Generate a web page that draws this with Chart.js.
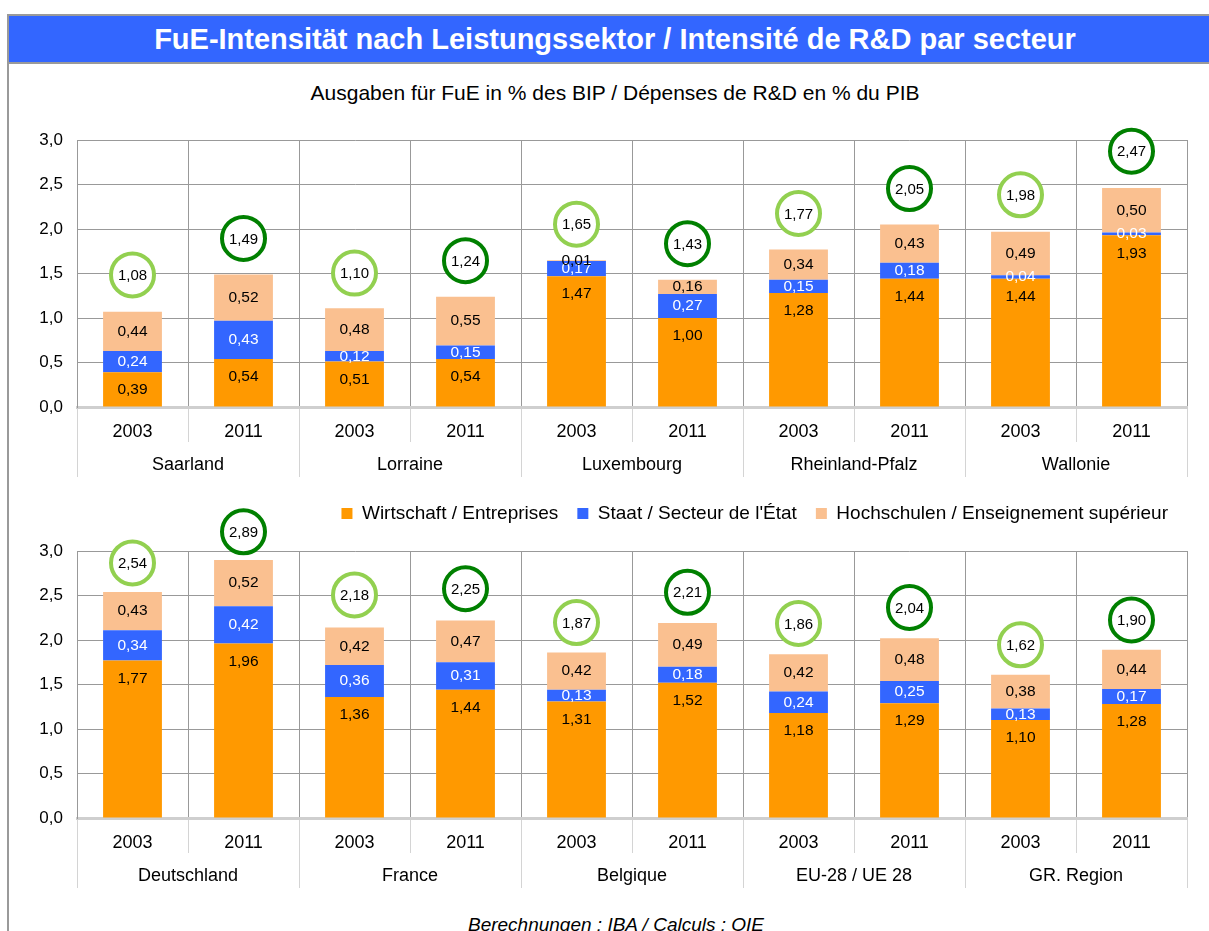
<!DOCTYPE html>
<html>
<head>
<meta charset="utf-8">
<script src="https://cdn.jsdelivr.net/npm/chart.js@4/dist/chart.umd.min.js"></script>
<style>
  body { margin: 0; width: 1209px; height: 931px; overflow: hidden; background: #fff;
         font-family: "Liberation Sans", Arial, sans-serif; position: relative; }
  #frame { position: absolute; left: 7px; top: 14px; width: 1210px; height: 930px;
           border-left: 2px solid #9a9a9a; border-top: 2px solid #9a9a9a; }
  #title { position: absolute; left: 9px; top: 16px; width: 1188px; height: 46px; padding-left: 12px;
           background: #3366ff; border-bottom: 2px solid #9a9a9a; color: #fff; font-weight: bold;
           font-size: 29px; line-height: 46px; text-align: center; }
  #subtitle { position: absolute; left: 0; top: 81px; width: 1230px; text-align: center;
              font-size: 21px; line-height: 24px; color: #000; }
  #note { position: absolute; left: 0; top: 914px; width: 1232px; text-align: center;
          font-size: 19px; line-height: 22px; font-style: italic; color: #000; }
  canvas { position: absolute; left: 0; }
  #topChart { top: 100px; }
  #bottomChart { top: 480px; }
</style>
</head>
<body>
<div id="frame"></div>
<div id="title">FuE-Intensität nach Leistungssektor / Intensité de R&amp;D par secteur</div>
<div id="subtitle">Ausgaben für FuE in % des BIP / Dépenses de R&amp;D en % du PIB</div>
<canvas id="topChart" width="1209" height="433"></canvas>
<canvas id="bottomChart" width="1209" height="421"></canvas>
<div id="note">Berechnungen : IBA / Calculs : OIE</div>
<script>
// categories
var years = ["2003", "2011", "2003", "2011", "2003", "2011", "2003", "2011", "2003", "2011"];
var topRegions = ["Saarland", "Lorraine", "Luxembourg", "Rheinland-Pfalz", "Wallonie"];
var bottomRegions = ["Deutschland", "France", "Belgique", "EU-28 / UE 28", "GR. Region"];
var seriesNames = ["Wirtschaft / Entreprises", "Staat / Secteur de l'État", "Hochschulen / Enseignement supérieur"];

// upper panel
var topWirtschaft = [0.39, 0.54, 0.51, 0.54, 1.47, 1.00, 1.28, 1.44, 1.44, 1.93];
var topStaat = [0.24, 0.43, 0.12, 0.15, 0.17, 0.27, 0.15, 0.18, 0.04, 0.03];
var topHochschulen = [0.44, 0.52, 0.48, 0.55, 0.01, 0.16, 0.34, 0.43, 0.49, 0.50];
var topTotal = [1.08, 1.49, 1.10, 1.24, 1.65, 1.43, 1.77, 2.05, 1.98, 2.47];

// lower panel
var bottomWirtschaft = [1.77, 1.96, 1.36, 1.44, 1.31, 1.52, 1.18, 1.29, 1.10, 1.28];
var bottomStaat = [0.34, 0.42, 0.36, 0.31, 0.13, 0.18, 0.24, 0.25, 0.13, 0.17];
var bottomHochschulen = [0.43, 0.52, 0.42, 0.47, 0.42, 0.49, 0.42, 0.48, 0.38, 0.44];
var bottomTotal = [2.54, 2.89, 2.18, 2.25, 1.87, 2.21, 1.86, 2.04, 1.62, 1.90];

var colors = ["#ff9900", "#3366ff", "#fac090"];
var fontFamily = '"Liberation Sans", Arial, sans-serif';
Chart.defaults.font.family = fontFamily;
Chart.defaults.color = "#000";

function fmt(v, d) {
    return v.toFixed(d).replace(".", ",");
}

// values inside the segments + circled totals above the bars
var labelPlugin = {
    id: "segLabels",
    afterDatasetsDraw: function (chart, args, opts) {
        var ctx = chart.ctx;
        ctx.save();
        ctx.font = "15.5px " + fontFamily;
        ctx.textAlign = "center";
        ctx.textBaseline = "middle";
        chart.data.datasets.forEach(function (ds, di) {
            chart.getDatasetMeta(di).data.forEach(function (bar, i) {
                var y = (bar.y + bar.base) / 2;
                // business label sits near the top of its segment, like Excel's "inside end"
                if (di === 0) y = Math.min(y, bar.y + 18);
                ctx.fillStyle = di === 1 ? "#fff" : "#000";
                ctx.fillText(fmt(ds.data[i], 2), bar.x, y);
            });
        });
        var yScale = chart.scales.y;
        var first = chart.getDatasetMeta(0).data;
        ctx.font = "15px " + fontFamily;
        opts.totals.forEach(function (t, i) {
            var x = first[i].x;
            var cy = yScale.getPixelForValue(t) - opts.offset;
            ctx.beginPath();
            ctx.arc(x, cy, 21.5, 0, Math.PI * 2);
            ctx.fillStyle = "#fff";
            ctx.fill();
            ctx.lineWidth = 4;
            ctx.strokeStyle = i % 2 ? "#008000" : "#92d050";
            ctx.stroke();
            ctx.fillStyle = "#000";
            ctx.fillText(fmt(t, 2), x, cy + 1);
        });
        ctx.restore();
    }
};

function makeChart(id, regions, wirt, staat, hoch, totals, showLegend, circleOffset, padTop, groupHeight) {
    var ctx = document.getElementById(id).getContext("2d");
    return new Chart(ctx, {
        type: "bar",
        data: {
            labels: years,
            datasets: [
                { label: seriesNames[0], data: wirt, backgroundColor: colors[0] },
                { label: seriesNames[1], data: staat, backgroundColor: colors[1] },
                { label: seriesNames[2], data: hoch, backgroundColor: colors[2] }
            ]
        },
        options: {
            responsive: false,
            animation: false,
            devicePixelRatio: 1,
            layout: { padding: { top: padTop, right: 22, left: 0, bottom: 0 } },
            datasets: { bar: { categoryPercentage: 0.53, barPercentage: 1, borderWidth: 0 } },
            plugins: {
                tooltip: { enabled: false },
                legend: {
                    display: showLegend,
                    position: "bottom",
                    align: "end",
                    labels: { boxWidth: 11, boxHeight: 11, padding: 19, font: { size: 19 } }
                },
                segLabels: { totals: totals, offset: circleOffset }
            },
            scales: {
                x: {
                    stacked: true,
                    grid: { color: "#999", tickColor: "#d4d4d4", tickLength: 35, offset: true },
                    border: { color: "#cfcfcf", width: 3 },
                    ticks: { font: { size: 18 }, padding: -21, maxRotation: 0 },
                    afterFit: function (s) { s.height = 35; }
                },
                x2: {
                    type: "category",
                    position: "bottom",
                    labels: regions,
                    offset: true,
                    grid: { offset: true, drawOnChartArea: false, tickColor: "#d4d4d4", tickLength: 35 },
                    border: { display: false },
                    ticks: { font: { size: 18 }, padding: -23, maxRotation: 0 },
                    afterFit: function (s) { s.height = groupHeight; }
                },
                y: {
                    stacked: true,
                    min: 0,
                    max: 3,
                    grid: {
                        color: function (c) { return c.tick && c.tick.value === 0 ? "rgba(0,0,0,0)" : "#999"; },
                        drawTicks: false
                    },
                    border: { color: "#999" },
                    ticks: {
                        stepSize: 0.5,
                        padding: 14,
                        font: { size: 17 },
                        callback: function (v) { return fmt(v, 1); }
                    },
                    afterFit: function (s) { s.width = 77; }
                }
            }
        },
        plugins: [labelPlugin]
    });
}

makeChart("topChart", topRegions, topWirtschaft, topStaat, topHochschulen, topTotal, true, 36, 40, 43);
makeChart("bottomChart", bottomRegions, bottomWirtschaft, bottomStaat, bottomHochschulen, bottomTotal, false, 29, 71, 48);
</script>
</body>
</html>
